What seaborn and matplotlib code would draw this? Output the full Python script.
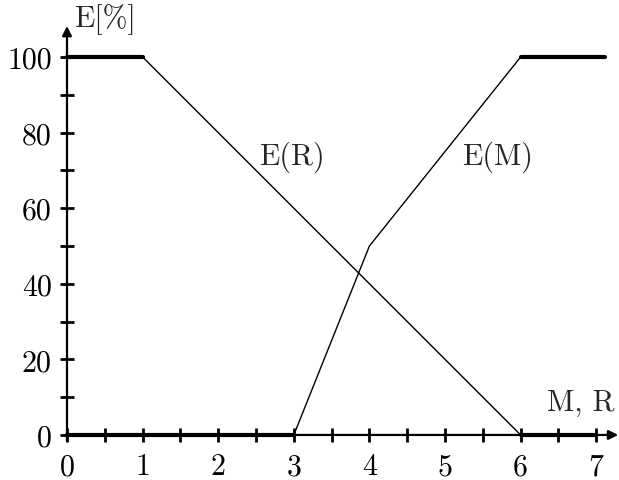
import matplotlib
matplotlib.use("Agg")
import matplotlib.pyplot as plt
import seaborn as sns

# Membership curves E(M) and E(R) in percent
em_x = [0, 3, 4, 6, 7.12]
em_y = [0, 0, 50, 100, 100]
er_x = [0, 1, 6, 7]
er_y = [100, 100, 0, 0]

x_ticks = [0, 0.5, 1, 1.5, 2, 2.5, 3, 3.5, 4, 4.5, 5, 5.5, 6, 6.5, 7]
x_labels = ["0", "", "1", "", "2", "", "3", "", "4", "", "5", "", "6", "", "7"]
y_ticks = [0, 10, 20, 30, 40, 50, 60, 70, 80, 90, 100]
y_labels = ["0", "", "20", "", "40", "", "60", "", "80", "", "100"]

sns.set_style("white")
plt.rcParams["font.family"] = ["cmr10", "DejaVu Serif"]
plt.rcParams["axes.formatter.use_mathtext"] = True

fig = plt.figure(figsize=(6.19, 4.81), dpi=100)
ax = fig.add_axes([0.0716, 0.0622, 0.9283, 0.884])
ax.set_xlim(-0.3, 7.3)
ax.set_ylim(-4, 108.5)

thin = 1.0
thick = 3.0
fs = 21.5

# sloped parts thin, flat parts thick
sns.lineplot(x=er_x[1:3], y=er_y[1:3], color="black", lw=thin, ax=ax, estimator=None)
sns.lineplot(x=er_x[0:2], y=er_y[0:2], color="black", lw=thick, ax=ax, estimator=None)
sns.lineplot(x=er_x[2:4], y=er_y[2:4], color="black", lw=thick, ax=ax, estimator=None)
sns.lineplot(x=em_x[1:4], y=em_y[1:4], color="black", lw=thin, ax=ax, estimator=None)
sns.lineplot(x=em_x[0:2], y=em_y[0:2], color="black", lw=thick, ax=ax, estimator=None)
sns.lineplot(x=em_x[3:5], y=em_y[3:5], color="black", lw=thick, ax=ax, estimator=None)

# axes through the origin (ticks sit on the zero lines), drawn as arrows
for side in ["top", "right"]:
    ax.spines[side].set_visible(False)
ax.spines["left"].set_position(("data", 0))
ax.spines["bottom"].set_position(("data", 0))
ax.spines["left"].set_visible(False)
ax.spines["bottom"].set_visible(False)
ax.annotate("", xy=(7.29, 0), xytext=(-0.02, 0),
            arrowprops=dict(arrowstyle="-|>", lw=1.6, color="black",
                            mutation_scale=14, shrinkA=0, shrinkB=0))
ax.annotate("", xy=(0, 108.2), xytext=(0, -1.5),
            arrowprops=dict(arrowstyle="-|>", lw=1.6, color="black",
                            mutation_scale=14, shrinkA=0, shrinkB=0))

ax.set_xticks(x_ticks)
ax.set_xticklabels(x_labels)
ax.set_yticks(y_ticks)
ax.set_yticklabels(y_labels)
ax.tick_params(axis="both", direction="inout", length=10, width=2,
               labelsize=fs, colors="black", bottom=True, left=True)
ax.tick_params(axis="x", pad=8)
ax.tick_params(axis="y", pad=6)
for lab in ax.get_xticklabels() + ax.get_yticklabels():
    lab.set_clip_on(False)

ax.text(2.98, 73.8, "E(R)", fontsize=fs, ha="center", va="center")
ax.text(5.69, 73.8, "E(M)", fontsize=fs, ha="center", va="center")
ax.text(6.79, 8.7, "M, R", fontsize=fs, ha="center", va="center")
ax.text(0.50, 110.3, "E[%]", fontsize=fs, ha="center", va="center", clip_on=False)

fig.savefig("out.png", dpi=100)
